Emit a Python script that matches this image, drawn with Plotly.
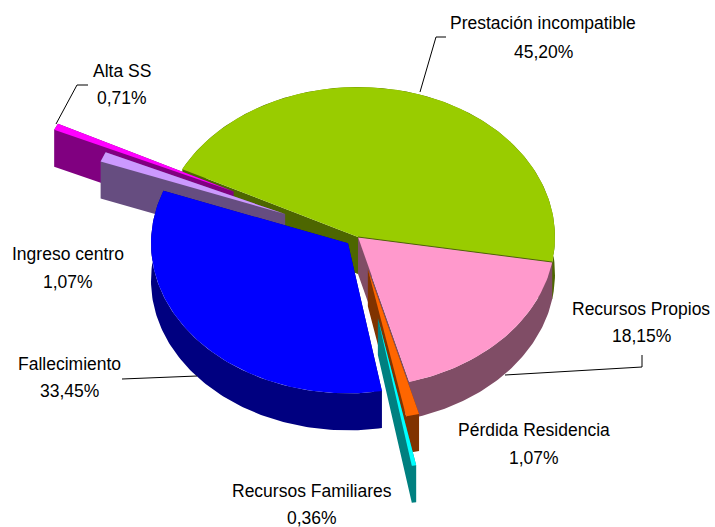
import math
import plotly.graph_objects as go

# --- data ---
categories = ["Prestación incompatible", "Alta SS", "Ingreso centro", "Fallecimiento",
              "Recursos Familiares", "Pérdida Residencia", "Recursos Propios"]
shares = [45.20, 0.71, 1.07, 33.45, 0.36, 1.07, 18.15]

# --- styling ---
top_colors = ["#99CC00", "#FF00FF", "#CC99FF", "#0000FF", "#00FFFF", "#FF6600", "#FF99CC"]
side_colors = ["#4D6600", "#800080", "#664D80", "#000080", "#008080", "#803300", "#804D66"]
explode = [0.0, 0.70, 0.40, 0.066, 0.55, 0.22, 0.0]
draw_order = [0, 1, 2, 6, 3, 5, 4]
label_name_pos = [(543, 23), (122, 71), (68, 254), (69, 364), (312, 491), (534, 430), (641, 309)]
label_value_pos = [(543, 52), (122, 98), (68, 282), (69, 391), (312, 518), (534, 458), (641, 336)]
leader_x = [[420, 436, 446], [56, 77, 88], [], [197, 122], [], [], [505, 642, 642]]
leader_y = [[92, 37, 37], [124, 85, 85], [], [376, 379], [], [], [375, 367, 355]]

# --- projection of the tilted pie ---
CX, CY, RX, RY, DEPTH = 358.0, 237.0, 197.0, 150.0, 37.0
START_DEG = -9.6


def pt(cx, cy, deg):
    r = math.radians(deg)
    return cx + RX * math.cos(r), cy - RY * math.sin(r)


total = sum(shares)
spans = []
a = START_DEG
for s in shares:
    b = a + 360.0 * s / total
    spans.append((a, b))
    a = b

fig = go.Figure()
for i in draw_order:
    a, b = spans[i]
    mid = math.radians((a + b) / 2)
    cx = CX + explode[i] * RX * math.cos(mid)
    cy = CY - explode[i] * RY * math.sin(mid)
    n = max(4, int((b - a) / 1.0))
    arc = [pt(cx, cy, a + (b - a) * k / n) for k in range(n + 1)]
    # side: outer wall, then both cut faces
    sx, sy = [], []
    sx += [p[0] for p in arc] + [p[0] for p in reversed(arc)] + [None]
    sy += [p[1] for p in arc] + [p[1] + DEPTH for p in reversed(arc)] + [None]
    for e in (arc[0], arc[-1]):
        sx += [cx, e[0], e[0], cx, cx, None]
        sy += [cy, e[1], e[1] + DEPTH, cy + DEPTH, cy, None]
    fig.add_trace(go.Scatter(x=sx, y=sy, mode="lines", fill="toself", fillcolor=side_colors[i],
                             line=dict(width=0, color=side_colors[i]), hoverinfo="skip",
                             showlegend=False))
    tx = [cx] + [p[0] for p in arc] + [cx]
    ty = [cy] + [p[1] for p in arc] + [cy]
    fig.add_trace(go.Scatter(x=tx, y=ty, mode="lines", fill="toself", fillcolor=top_colors[i],
                             line=dict(width=0, color=top_colors[i]), name=categories[i],
                             text=f"{categories[i]}: {shares[i]:.2f}%", hoverinfo="text",
                             showlegend=False))

# thin dark seam between the green and pink tops
e = pt(CX, CY, START_DEG)
fig.add_trace(go.Scatter(x=[CX, e[0]], y=[CY, e[1]], mode="lines",
                         line=dict(width=1, color="#4D6600"), hoverinfo="skip", showlegend=False))

for lx, ly in zip(leader_x, leader_y):
    if lx:
        fig.add_trace(go.Scatter(x=lx, y=ly, mode="lines", line=dict(width=1, color="#000000"),
                                 hoverinfo="skip", showlegend=False))

font = dict(family="Liberation Sans Narrow, Arial Narrow, Liberation Sans", size=17.5, color="#000000")
for i, name in enumerate(categories):
    value = f"{shares[i]:.2f}%".replace(".", ",")
    for (x, y), txt in ((label_name_pos[i], name), (label_value_pos[i], value)):
        fig.add_annotation(x=x, y=y, text=txt, showarrow=False, font=font,
                           xanchor="center", yanchor="middle")

fig.update_layout(
    width=715, height=527, margin=dict(l=0, r=0, t=0, b=0),
    paper_bgcolor="#FFFFFF", plot_bgcolor="#FFFFFF", showlegend=False,
    xaxis=dict(range=[0, 715], visible=False, fixedrange=True),
    yaxis=dict(range=[527, 0], visible=False, fixedrange=True),
)
fig.write_html("out.html", config={"displayModeBar": False},
               post_script="document.body.style.margin='0';document.documentElement.style.overflow='hidden';")
